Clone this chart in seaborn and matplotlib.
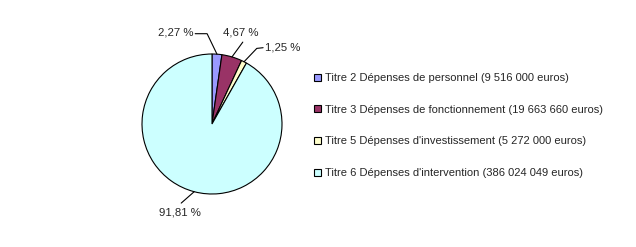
import numpy as np
import matplotlib
matplotlib.use("Agg")
import matplotlib.pyplot as plt
import seaborn as sns
from matplotlib.patches import Patch

sns.set_style("white")
plt.rcParams['font.family'] = ['Liberation Sans', 'DejaVu Sans']

categories = [
    "Titre 2 Dépenses de personnel (9 516 000 euros)",
    "Titre 3 Dépenses de fonctionnement (19 663 660 euros)",
    "Titre 5 Dépenses d'investissement (5 272 000 euros)",
    "Titre 6 Dépenses d'intervention (386 024 049 euros)",
]
shares = [2.27, 4.67, 1.25, 91.81]
pct_labels = ["2,27 %", "4,67 %", "1,25 %", "91,81 %"]
colors = ["#9999FF", "#993366", "#FFFFCC", "#CCFFFF"]

# label layout (data units relative to pie centre, radius = 1)
label_pos = [(-0.27, 1.30), (0.41, 1.31), (0.76, 1.09), (-0.46, -1.26)]
label_ha = ["right", "center", "left", "center"]
elbows = [(-0.07, 1.29), (0.44, 1.17), (0.64, 1.08), (-0.44, -1.13)]
starts = [(-0.24, 1.29), (0.44, 1.17), (0.73, 1.09), (-0.44, -1.13)]

W, H = 636, 247
fig = plt.figure(figsize=(W / 100, H / 100), dpi=100)
fig.patch.set_facecolor("white")

cx, cy, r = 212, 124, 70
ax = fig.add_axes([(cx - r) / W, (H - cy - r) / H, 2 * r / W, 2 * r / H])

wedges, _ = ax.pie(shares, colors=colors, startangle=90, counterclock=False,
                   radius=1, wedgeprops=dict(edgecolor="black", linewidth=0.8))
ax.set_xlim(-1, 1)
ax.set_ylim(-1, 1)
ax.axis("off")
for w in wedges:
    w.set_clip_on(False)

for i, w in enumerate(wedges):
    ang = np.deg2rad((w.theta1 + w.theta2) / 2)
    px, py = np.cos(ang), np.sin(ang)
    sx, sy = starts[i]
    ex, ey = elbows[i]
    ax.plot([sx, ex, px], [sy, ey, py], color="black", lw=0.8, clip_on=False)
    tx, ty = label_pos[i]
    ax.text(tx, ty, pct_labels[i], ha=label_ha[i], va="center", fontsize=8.2,
            clip_on=False)

handles = [Patch(facecolor=c, edgecolor="black", linewidth=0.8) for c in colors]
fig.legend(handles, categories, loc="upper left",
           bbox_to_anchor=(314 / W, 1 - 73 / H), frameon=False,
           fontsize=8.0, handlelength=0.6, handleheight=0.6,
           handletextpad=0.35, labelspacing=1.95, borderaxespad=0,
           borderpad=0)

fig.savefig("out.png", dpi=100, facecolor="white")
